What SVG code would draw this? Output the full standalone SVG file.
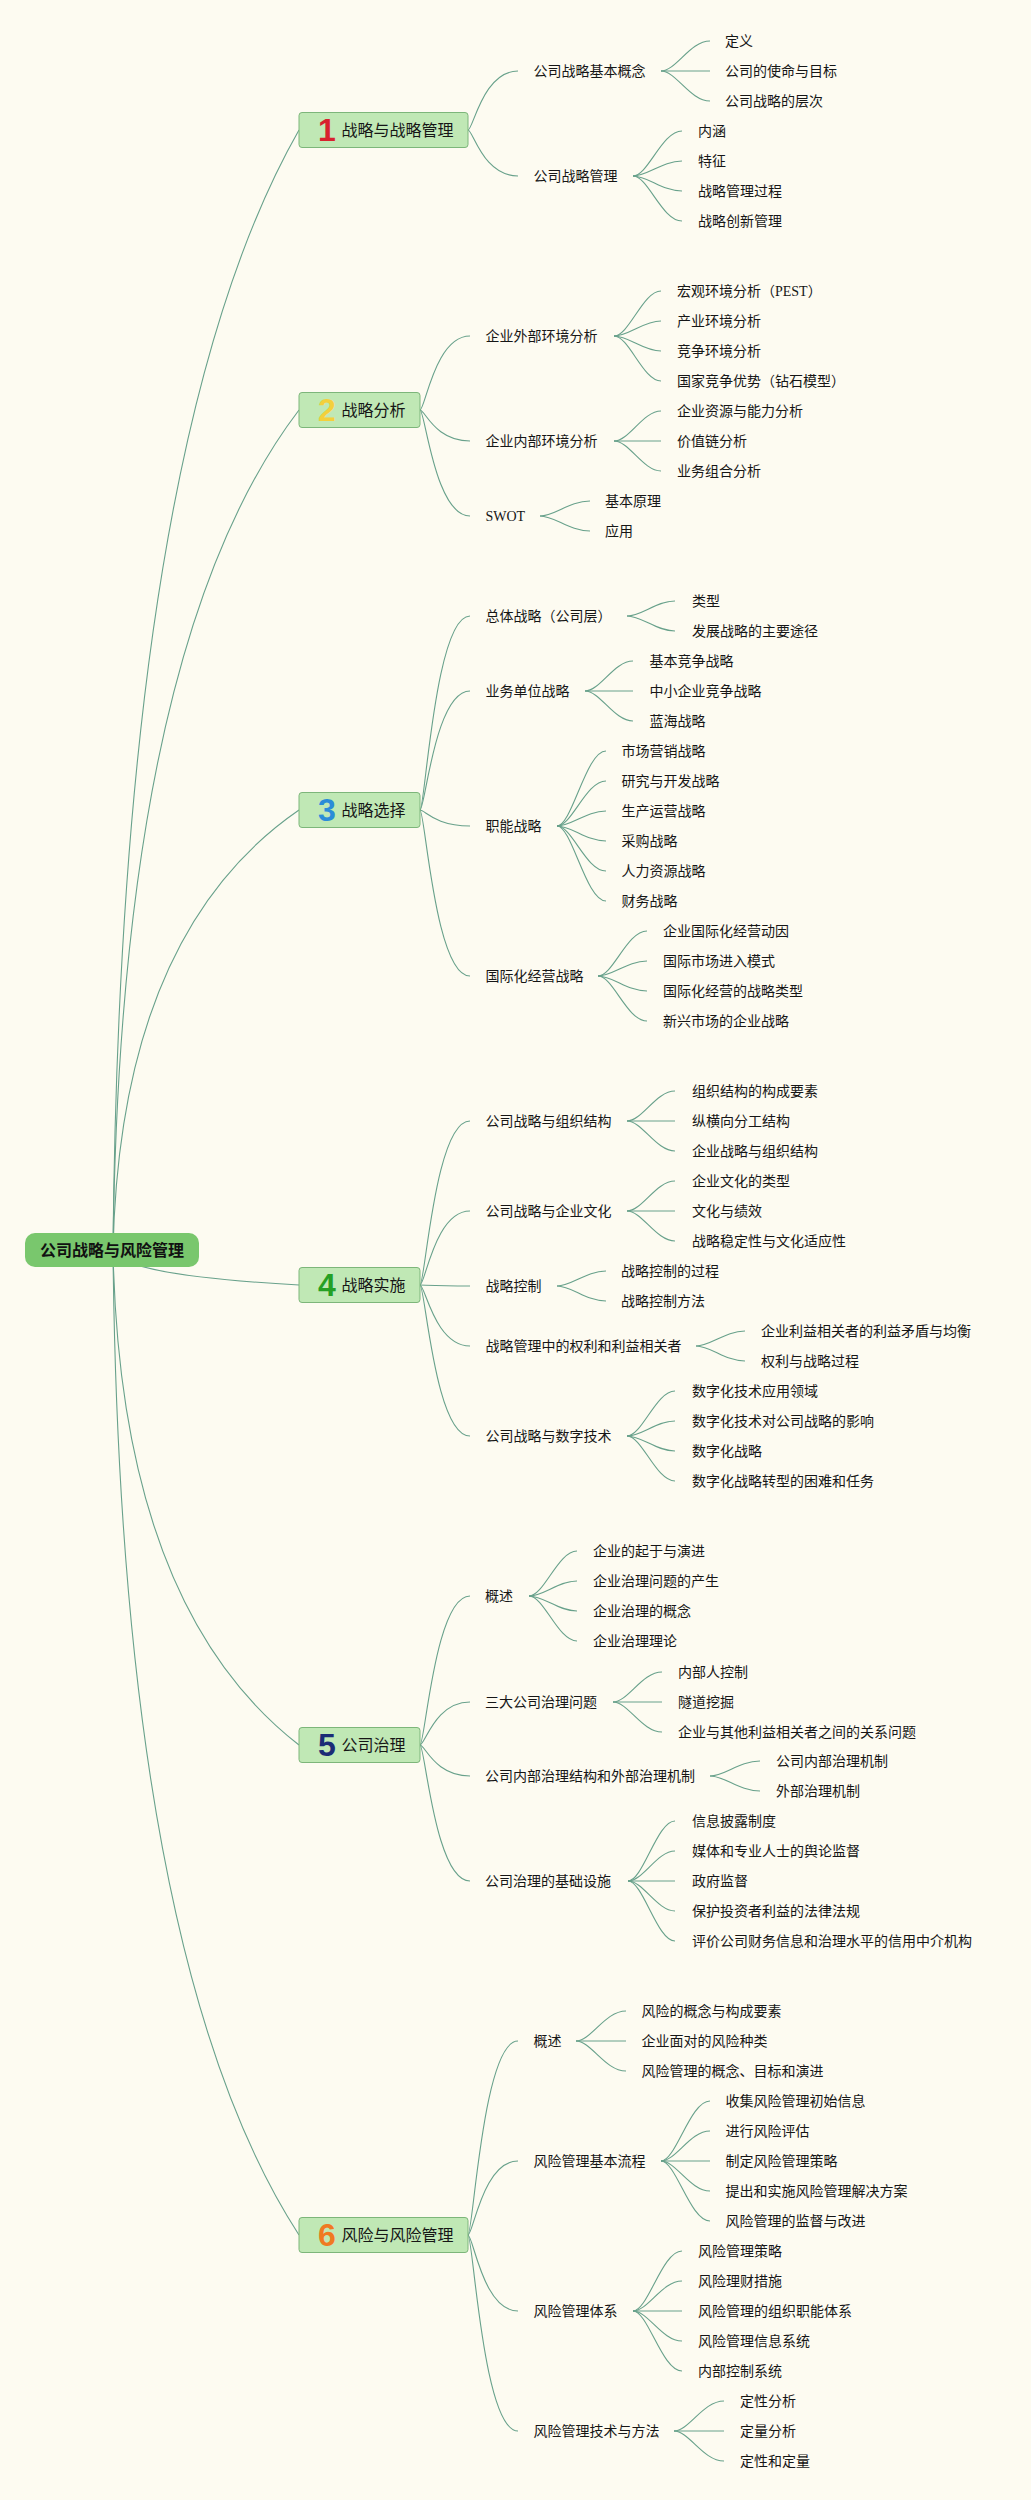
<svg xmlns="http://www.w3.org/2000/svg" width="1031" height="2500" viewBox="0 0 1031 2500">
<style>
.bg{fill:#FDFBF1}
#connectors path{fill:none;stroke:#68A18B;stroke-width:1.1}
.box{fill:#C0E8B5;stroke:#7DB67A;stroke-width:1}
.rootbox{fill:#79C76D}
text{font-family:"Liberation Serif","Noto Sans CJK SC",serif;fill:#161616}
.rt{font-family:"Noto Sans CJK SC",sans-serif;font-weight:bold;font-size:16px;text-anchor:middle;fill:#111}
.t1{font-family:"Noto Sans CJK SC",sans-serif;font-size:16px}
.t2{font-size:14px}
.num{font-family:"Liberation Sans",Arial,sans-serif;font-weight:bold;font-size:32px;text-anchor:middle}
</style>
<rect class="bg" x="0" y="0" width="1031" height="2500"/>
<g id="connectors">
<path d="M113 1250Q120 444 299 130"/>
<path d="M113 1250Q120 645 299 410"/>
<path d="M113 1250Q120 933 299 810"/>
<path d="M113 1250Q120 1275 299 1285"/>
<path d="M113 1250Q120 1606 299 1745"/>
<path d="M113 1250Q120 1959 299 2235"/>
<path d="M468 130C473 130 483 71 518 71"/>
<path d="M468 130C473 130 483 176 518 176"/>
<path d="M420 410C425 410 435 336 470 336"/>
<path d="M420 410C425 410 435 441 470 441"/>
<path d="M420 410C425 410 435 516 470 516"/>
<path d="M420 810C425 810 435 616 470 616"/>
<path d="M420 810C425 810 435 691 470 691"/>
<path d="M420 810C425 810 435 826 470 826"/>
<path d="M420 810C425 810 435 976 470 976"/>
<path d="M420 1285C425 1285 435 1121 470 1121"/>
<path d="M420 1285C425 1285 435 1211 470 1211"/>
<path d="M420 1285C425 1285 435 1286 470 1286"/>
<path d="M420 1285C425 1285 435 1346 470 1346"/>
<path d="M420 1285C425 1285 435 1436 470 1436"/>
<path d="M420 1745C425 1745 435 1596 470 1596"/>
<path d="M420 1745C425 1745 435 1702 470 1702"/>
<path d="M420 1745C425 1745 435 1776 470 1776"/>
<path d="M420 1745C425 1745 435 1881 470 1881"/>
<path d="M468 2235C473 2235 483 2041 518 2041"/>
<path d="M468 2235C473 2235 483 2161 518 2161"/>
<path d="M468 2235C473 2235 483 2311 518 2311"/>
<path d="M468 2235C473 2235 483 2431 518 2431"/>
<path d="M661 71C676 71 690 41 710 41"/>
<path d="M661 71H710"/>
<path d="M661 71C676 71 690 101 710 101"/>
<path d="M633 176C648 176 662 131 682 131"/>
<path d="M633 176C648 176 662 161 682 161"/>
<path d="M633 176C648 176 662 191 682 191"/>
<path d="M633 176C648 176 662 221 682 221"/>
<path d="M614 336C629 336 643 291 661 291"/>
<path d="M614 336C629 336 643 321 661 321"/>
<path d="M614 336C629 336 643 351 661 351"/>
<path d="M614 336C629 336 643 381 661 381"/>
<path d="M614 441C629 441 643 411 661 411"/>
<path d="M614 441H661"/>
<path d="M614 441C629 441 643 471 661 471"/>
<path d="M540 516C555 516 569 501 590 501"/>
<path d="M540 516C555 516 569 531 590 531"/>
<path d="M627 616C642 616 656 601 675 601"/>
<path d="M627 616C642 616 656 631 675 631"/>
<path d="M585 691C600 691 614 661 633 661"/>
<path d="M585 691H633"/>
<path d="M585 691C600 691 614 721 633 721"/>
<path d="M557 826C572 826 586 751 606 751"/>
<path d="M557 826C572 826 586 781 606 781"/>
<path d="M557 826C572 826 586 811 606 811"/>
<path d="M557 826C572 826 586 841 606 841"/>
<path d="M557 826C572 826 586 871 606 871"/>
<path d="M557 826C572 826 586 901 606 901"/>
<path d="M598 976C613 976 627 931 647 931"/>
<path d="M598 976C613 976 627 961 647 961"/>
<path d="M598 976C613 976 627 991 647 991"/>
<path d="M598 976C613 976 627 1021 647 1021"/>
<path d="M627 1121C642 1121 656 1091 675 1091"/>
<path d="M627 1121H675"/>
<path d="M627 1121C642 1121 656 1151 675 1151"/>
<path d="M627 1211C642 1211 656 1181 675 1181"/>
<path d="M627 1211H675"/>
<path d="M627 1211C642 1211 656 1241 675 1241"/>
<path d="M557 1286C572 1286 586 1271 606 1271"/>
<path d="M557 1286C572 1286 586 1301 606 1301"/>
<path d="M696 1346C711 1346 725 1331 745 1331"/>
<path d="M696 1346C711 1346 725 1361 745 1361"/>
<path d="M627 1436C642 1436 656 1391 675 1391"/>
<path d="M627 1436C642 1436 656 1421 675 1421"/>
<path d="M627 1436C642 1436 656 1451 675 1451"/>
<path d="M627 1436C642 1436 656 1481 675 1481"/>
<path d="M529 1596C544 1596 558 1551 577 1551"/>
<path d="M529 1596C544 1596 558 1581 577 1581"/>
<path d="M529 1596C544 1596 558 1611 577 1611"/>
<path d="M529 1596C544 1596 558 1641 577 1641"/>
<path d="M613 1702C628 1702 642 1672 662 1672"/>
<path d="M613 1702H662"/>
<path d="M613 1702C628 1702 642 1732 662 1732"/>
<path d="M710 1776C725 1776 739 1761 760 1761"/>
<path d="M710 1776C725 1776 739 1791 760 1791"/>
<path d="M628 1881C643 1881 657 1821 675 1821"/>
<path d="M628 1881C643 1881 657 1851 675 1851"/>
<path d="M628 1881H675"/>
<path d="M628 1881C643 1881 657 1911 675 1911"/>
<path d="M628 1881C643 1881 657 1941 675 1941"/>
<path d="M576 2041C591 2041 605 2011 626 2011"/>
<path d="M576 2041H626"/>
<path d="M576 2041C591 2041 605 2071 626 2071"/>
<path d="M661 2161C676 2161 690 2101 710 2101"/>
<path d="M661 2161C676 2161 690 2131 710 2131"/>
<path d="M661 2161H710"/>
<path d="M661 2161C676 2161 690 2191 710 2191"/>
<path d="M661 2161C676 2161 690 2221 710 2221"/>
<path d="M633 2311C648 2311 662 2251 682 2251"/>
<path d="M633 2311C648 2311 662 2281 682 2281"/>
<path d="M633 2311H682"/>
<path d="M633 2311C648 2311 662 2341 682 2341"/>
<path d="M633 2311C648 2311 662 2371 682 2371"/>
<path d="M674 2431C689 2431 703 2401 724 2401"/>
<path d="M674 2431H724"/>
<path d="M674 2431C689 2431 703 2461 724 2461"/>
</g>
<g id="root"><rect class="rootbox" x="25" y="1233" width="174" height="34" rx="10"/><text class="rt" x="112" y="1256">公司战略与风险管理</text></g>
<g id="n1"><rect class="box" x="299" y="112.5" width="169" height="35" rx="3"/><text class="num" x="327" y="141" style="fill:#D8222E">1</text><text class="t1" x="341.5" y="136">战略与战略管理</text></g>
<g id="n2"><rect class="box" x="299" y="392.5" width="121" height="35" rx="3"/><text class="num" x="327" y="421" style="fill:#F3D03C">2</text><text class="t1" x="341.5" y="416">战略分析</text></g>
<g id="n3"><rect class="box" x="299" y="792.5" width="121" height="35" rx="3"/><text class="num" x="327" y="821" style="fill:#2B8CD8">3</text><text class="t1" x="341.5" y="816">战略选择</text></g>
<g id="n4"><rect class="box" x="299" y="1267.5" width="121" height="35" rx="3"/><text class="num" x="327" y="1296" style="fill:#25A025">4</text><text class="t1" x="341.5" y="1291">战略实施</text></g>
<g id="n5"><rect class="box" x="299" y="1727.5" width="121" height="35" rx="3"/><text class="num" x="327" y="1756" style="fill:#1B2B76">5</text><text class="t1" x="341.5" y="1751">公司治理</text></g>
<g id="n6"><rect class="box" x="299" y="2217.5" width="169" height="35" rx="3"/><text class="num" x="327" y="2246" style="fill:#F07A22">6</text><text class="t1" x="341.5" y="2241">风险与风险管理</text></g>
<g id="n1a"><text class="t2" x="533.5" y="76">公司战略基本概念</text></g>
<g id="n1a1"><text class="t2" x="725" y="46">定义</text></g>
<g id="n1a2"><text class="t2" x="725" y="76">公司的使命与目标</text></g>
<g id="n1a3"><text class="t2" x="725" y="106">公司战略的层次</text></g>
<g id="n1b"><text class="t2" x="533.5" y="181">公司战略管理</text></g>
<g id="n1b1"><text class="t2" x="698" y="136">内涵</text></g>
<g id="n1b2"><text class="t2" x="698" y="166">特征</text></g>
<g id="n1b3"><text class="t2" x="698" y="196">战略管理过程</text></g>
<g id="n1b4"><text class="t2" x="698" y="226">战略创新管理</text></g>
<g id="n2a"><text class="t2" x="485.5" y="341">企业外部环境分析</text></g>
<g id="n2a1"><text class="t2" x="677" y="296">宏观环境分析（PEST）</text></g>
<g id="n2a2"><text class="t2" x="677" y="326">产业环境分析</text></g>
<g id="n2a3"><text class="t2" x="677" y="356">竞争环境分析</text></g>
<g id="n2a4"><text class="t2" x="677" y="386">国家竞争优势（钻石模型）</text></g>
<g id="n2b"><text class="t2" x="485.5" y="446">企业内部环境分析</text></g>
<g id="n2b1"><text class="t2" x="677" y="416">企业资源与能力分析</text></g>
<g id="n2b2"><text class="t2" x="677" y="446">价值链分析</text></g>
<g id="n2b3"><text class="t2" x="677" y="476">业务组合分析</text></g>
<g id="n2c"><text class="t2" x="485.5" y="521">SWOT</text></g>
<g id="n2c1"><text class="t2" x="605" y="506">基本原理</text></g>
<g id="n2c2"><text class="t2" x="605" y="536">应用</text></g>
<g id="n3a"><text class="t2" x="485.5" y="621">总体战略（公司层）</text></g>
<g id="n3a1"><text class="t2" x="692" y="606">类型</text></g>
<g id="n3a2"><text class="t2" x="692" y="636">发展战略的主要途径</text></g>
<g id="n3b"><text class="t2" x="485.5" y="696">业务单位战略</text></g>
<g id="n3b1"><text class="t2" x="649.5" y="666">基本竞争战略</text></g>
<g id="n3b2"><text class="t2" x="649.5" y="696">中小企业竞争战略</text></g>
<g id="n3b3"><text class="t2" x="649.5" y="726">蓝海战略</text></g>
<g id="n3c"><text class="t2" x="485.5" y="831">职能战略</text></g>
<g id="n3c1"><text class="t2" x="621.5" y="756">市场营销战略</text></g>
<g id="n3c2"><text class="t2" x="621.5" y="786">研究与开发战略</text></g>
<g id="n3c3"><text class="t2" x="621.5" y="816">生产运营战略</text></g>
<g id="n3c4"><text class="t2" x="621.5" y="846">采购战略</text></g>
<g id="n3c5"><text class="t2" x="621.5" y="876">人力资源战略</text></g>
<g id="n3c6"><text class="t2" x="621.5" y="906">财务战略</text></g>
<g id="n3d"><text class="t2" x="485.5" y="981">国际化经营战略</text></g>
<g id="n3d1"><text class="t2" x="663" y="936">企业国际化经营动因</text></g>
<g id="n3d2"><text class="t2" x="663" y="966">国际市场进入模式</text></g>
<g id="n3d3"><text class="t2" x="663" y="996">国际化经营的战略类型</text></g>
<g id="n3d4"><text class="t2" x="663" y="1026">新兴市场的企业战略</text></g>
<g id="n4a"><text class="t2" x="485.5" y="1126">公司战略与组织结构</text></g>
<g id="n4a1"><text class="t2" x="692" y="1096">组织结构的构成要素</text></g>
<g id="n4a2"><text class="t2" x="692" y="1126">纵横向分工结构</text></g>
<g id="n4a3"><text class="t2" x="692" y="1156">企业战略与组织结构</text></g>
<g id="n4b"><text class="t2" x="485.5" y="1216">公司战略与企业文化</text></g>
<g id="n4b1"><text class="t2" x="692" y="1186">企业文化的类型</text></g>
<g id="n4b2"><text class="t2" x="692" y="1216">文化与绩效</text></g>
<g id="n4b3"><text class="t2" x="692" y="1246">战略稳定性与文化适应性</text></g>
<g id="n4c"><text class="t2" x="485.5" y="1291">战略控制</text></g>
<g id="n4c1"><text class="t2" x="621" y="1276">战略控制的过程</text></g>
<g id="n4c2"><text class="t2" x="621" y="1306">战略控制方法</text></g>
<g id="n4d"><text class="t2" x="485.5" y="1351">战略管理中的权利和利益相关者</text></g>
<g id="n4d1"><text class="t2" x="761" y="1336">企业利益相关者的利益矛盾与均衡</text></g>
<g id="n4d2"><text class="t2" x="761" y="1366">权利与战略过程</text></g>
<g id="n4e"><text class="t2" x="485.5" y="1441">公司战略与数字技术</text></g>
<g id="n4e1"><text class="t2" x="692" y="1396">数字化技术应用领域</text></g>
<g id="n4e2"><text class="t2" x="692" y="1426">数字化技术对公司战略的影响</text></g>
<g id="n4e3"><text class="t2" x="692" y="1456">数字化战略</text></g>
<g id="n4e4"><text class="t2" x="692" y="1486">数字化战略转型的困难和任务</text></g>
<g id="n5a"><text class="t2" x="485" y="1601">概述</text></g>
<g id="n5a1"><text class="t2" x="593" y="1556">企业的起于与演进</text></g>
<g id="n5a2"><text class="t2" x="593" y="1586">企业治理问题的产生</text></g>
<g id="n5a3"><text class="t2" x="593" y="1616">企业治理的概念</text></g>
<g id="n5a4"><text class="t2" x="593" y="1646">企业治理理论</text></g>
<g id="n5b"><text class="t2" x="485" y="1707">三大公司治理问题</text></g>
<g id="n5b1"><text class="t2" x="678" y="1677">内部人控制</text></g>
<g id="n5b2"><text class="t2" x="678" y="1707">隧道挖掘</text></g>
<g id="n5b3"><text class="t2" x="678" y="1737">企业与其他利益相关者之间的关系问题</text></g>
<g id="n5c"><text class="t2" x="485" y="1781">公司内部治理结构和外部治理机制</text></g>
<g id="n5c1"><text class="t2" x="776" y="1766">公司内部治理机制</text></g>
<g id="n5c2"><text class="t2" x="776" y="1796">外部治理机制</text></g>
<g id="n5d"><text class="t2" x="485" y="1886">公司治理的基础设施</text></g>
<g id="n5d1"><text class="t2" x="692" y="1826">信息披露制度</text></g>
<g id="n5d2"><text class="t2" x="692" y="1856">媒体和专业人士的舆论监督</text></g>
<g id="n5d3"><text class="t2" x="692" y="1886">政府监督</text></g>
<g id="n5d4"><text class="t2" x="692" y="1916">保护投资者利益的法律法规</text></g>
<g id="n5d5"><text class="t2" x="692" y="1946">评价公司财务信息和治理水平的信用中介机构</text></g>
<g id="n6a"><text class="t2" x="533.5" y="2046">概述</text></g>
<g id="n6a1"><text class="t2" x="641.5" y="2016">风险的概念与构成要素</text></g>
<g id="n6a2"><text class="t2" x="641.5" y="2046">企业面对的风险种类</text></g>
<g id="n6a3"><text class="t2" x="641.5" y="2076">风险管理的概念、目标和演进</text></g>
<g id="n6b"><text class="t2" x="533.5" y="2166">风险管理基本流程</text></g>
<g id="n6b1"><text class="t2" x="725.5" y="2106">收集风险管理初始信息</text></g>
<g id="n6b2"><text class="t2" x="725.5" y="2136">进行风险评估</text></g>
<g id="n6b3"><text class="t2" x="725.5" y="2166">制定风险管理策略</text></g>
<g id="n6b4"><text class="t2" x="725.5" y="2196">提出和实施风险管理解决方案</text></g>
<g id="n6b5"><text class="t2" x="725.5" y="2226">风险管理的监督与改进</text></g>
<g id="n6c"><text class="t2" x="533.5" y="2316">风险管理体系</text></g>
<g id="n6c1"><text class="t2" x="698" y="2256">风险管理策略</text></g>
<g id="n6c2"><text class="t2" x="698" y="2286">风险理财措施</text></g>
<g id="n6c3"><text class="t2" x="698" y="2316">风险管理的组织职能体系</text></g>
<g id="n6c4"><text class="t2" x="698" y="2346">风险管理信息系统</text></g>
<g id="n6c5"><text class="t2" x="698" y="2376">内部控制系统</text></g>
<g id="n6d"><text class="t2" x="533.5" y="2436">风险管理技术与方法</text></g>
<g id="n6d1"><text class="t2" x="740" y="2406">定性分析</text></g>
<g id="n6d2"><text class="t2" x="740" y="2436">定量分析</text></g>
<g id="n6d3"><text class="t2" x="740" y="2466">定性和定量</text></g>
</svg>
